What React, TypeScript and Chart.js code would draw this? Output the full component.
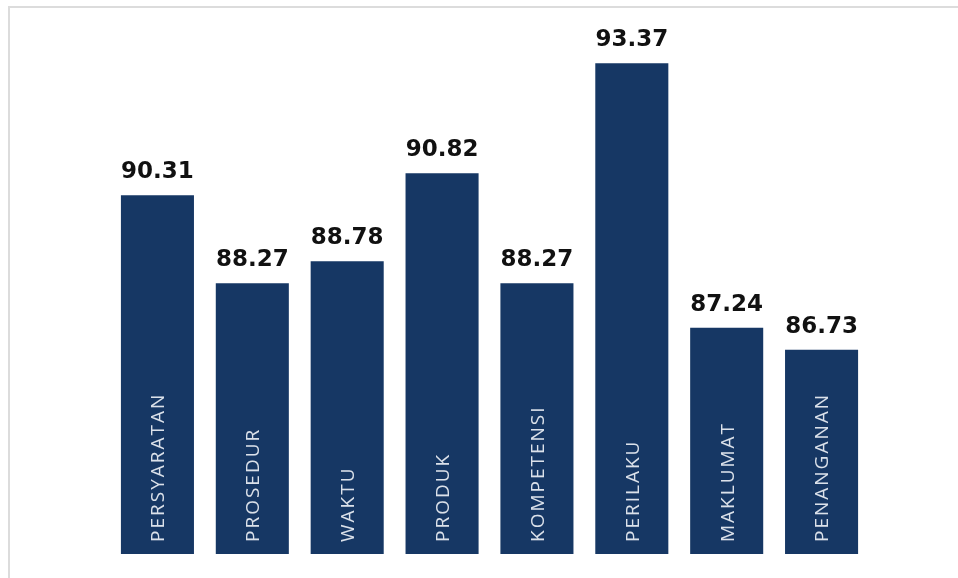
import React, { useEffect, useRef } from "react";
import { Chart, registerables } from "chart.js";

Chart.register(...registerables);

const categories = ["PERSYARATAN", "PROSEDUR", "WAKTU", "PRODUK", "KOMPETENSI", "PERILAKU", "MAKLUMAT", "PENANGANAN"];
const values = [90.31, 88.27, 88.78, 90.82, 88.27, 93.37, 87.24, 86.73];
const yMin = 82;
const yMax = 94;

const BAR_COLOR = "#163764";

const labelPlugin = {
  id: "barLabels",
  afterDatasetsDraw(chart: any) {
    const ctx = chart.ctx as CanvasRenderingContext2D;
    const meta = chart.getDatasetMeta(0);
    const data = chart.data.datasets[0].data as number[];
    const labels = chart.data.labels as string[];
    const basePx = chart.scales.y.getPixelForValue(yMin);
    meta.data.forEach((bar: any, i: number) => {
      const x = bar.x as number;
      const y = bar.y as number;
      ctx.save();
      ctx.fillStyle = "#111111";
      ctx.font = "bold 23px 'DejaVu Sans', sans-serif";
      ctx.textAlign = "center";
      ctx.textBaseline = "alphabetic";
      ctx.fillText(data[i].toFixed(2), x, y - 17);
      ctx.restore();
    });
    meta.data.forEach((bar: any, i: number) => {
      const x = bar.x as number;
      const size = 19;
      ctx.save();
      ctx.font = `400 ${size}px 'Open Sans', sans-serif`;
      try {
        (ctx as any).letterSpacing = "2px";
      } catch (e) {}
      ctx.fillStyle = "#dbe1ea";
      ctx.textAlign = "left";
      ctx.textBaseline = "alphabetic";
      ctx.translate(x + size * 0.36, basePx - 12);
      ctx.rotate(-Math.PI / 2);
      ctx.fillText(String(labels[i]), 0, 0);
      ctx.restore();
    });
  },
};

export default function App() {
  const ref = useRef<HTMLCanvasElement>(null);
  useEffect(() => {
    if (!ref.current) return;
    const chart = new Chart(ref.current, {
      type: "bar",
      data: {
        labels: categories,
        datasets: [
          {
            data: values,
            backgroundColor: BAR_COLOR,
            borderWidth: 0,
            barPercentage: 0.77,
            categoryPercentage: 1,
          },
        ],
      },
      options: {
        animation: false,
        responsive: true,
        maintainAspectRatio: false,
        layout: { padding: { left: 110, right: 89, top: 36, bottom: 24 } },
        plugins: { legend: { display: false }, tooltip: { enabled: false }, title: { display: false } },
        scales: {
          x: { display: false },
          y: { display: false, min: yMin, max: yMax },
        },
      },
      plugins: [labelPlugin],
    });
    return () => chart.destroy();
  }, []);

  return (
    <div style={{ position: "fixed", left: 0, top: 0, width: 958, height: 578, background: "#ffffff" }}>
      <div
        style={{
          position: "absolute",
          left: 8,
          top: 6,
          width: 950,
          height: 572,
          borderTop: "2px solid #dcdcdc",
          borderLeft: "2px solid #dcdcdc",
          boxSizing: "border-box",
        }}
      />
      <div style={{ position: "absolute", left: 0, top: 0, width: 958, height: 578 }}>
        <canvas ref={ref} />
      </div>
    </div>
  );
}
